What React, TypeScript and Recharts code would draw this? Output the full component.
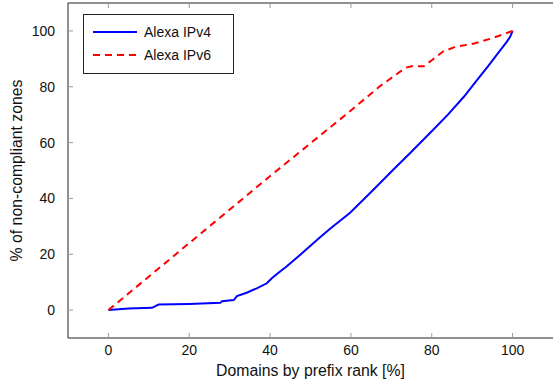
import { LineChart, Line, XAxis, YAxis } from 'recharts';

const ipv4X = [0, 5, 10.8, 12.4, 20, 27.7, 28.1, 31, 31.8, 34.2, 36.7, 39.2, 40.5, 42, 44, 47.4, 52.3, 55, 59.8, 65.5, 70.4, 74.6, 80.3, 84, 88, 91, 94, 96.5, 98.5, 99.4, 100];
const ipv4Y = [0, 0.6, 0.8, 2.0, 2.2, 2.6, 3.2, 3.6, 5.0, 6.2, 7.8, 9.6, 11.5, 13.3, 15.5, 19.7, 26.0, 29.3, 34.9, 43, 50.2, 56.2, 64.5, 70, 76.5, 82, 87.5, 92.2, 96, 97.9, 100];

const ipv6X = [0, 20, 40, 60, 67, 73.5, 75, 78, 80, 82.8, 86, 90, 95, 100];
const ipv6Y = [0, 24, 48, 71.5, 80, 86.8, 87.3, 87.3, 89.5, 92.6, 94.4, 95.3, 97.4, 100];

const xTicks = [0, 20, 40, 60, 80, 100];
const yTicks = [0, 20, 40, 60, 80, 100];

const ipv4 = ipv4X.map((x, i) => ({ x, y: ipv4Y[i] }));
const ipv6 = ipv6X.map((x, i) => ({ x, y: ipv6Y[i] }));

const FONT = '"Liberation Sans", Arial, sans-serif';
const TICK = '#9a9a9a';

function BottomTick(props: any) {
  const { x, y, payload } = props;
  return (
    <g>
      <line x1={x} y1={y} x2={x} y2={y - 5} stroke={TICK} />
      <text x={x} y={y + 17} textAnchor="middle" fontSize={14} fontFamily={FONT} fill="#111">
        {payload.value}
      </text>
    </g>
  );
}

function TopTick(props: any) {
  const { x, y } = props;
  return <line x1={x} y1={y} x2={x} y2={y + 5} stroke={TICK} />;
}

function LeftTick(props: any) {
  const { x, y, payload } = props;
  return (
    <g>
      <line x1={x} y1={y} x2={x + 5} y2={y} stroke={TICK} />
      <text x={x - 13} y={y + 5} textAnchor="end" fontSize={14} fontFamily={FONT} fill="#111">
        {payload.value}
      </text>
    </g>
  );
}

function RightTick(props: any) {
  const { x, y } = props;
  return <line x1={x} y1={y} x2={x - 5} y2={y} stroke={TICK} />;
}

function LegendBox() {
  const rows = [
    { name: 'Alexa IPv4', color: '#0000ff', dash: undefined },
    { name: 'Alexa IPv6', color: '#ff0000', dash: '7 5' },
  ];
  return (
    <svg width={151} height={60} style={{ position: 'absolute', left: 83, top: 14 }}>
      <rect x={0.5} y={0.5} width={150} height={59} fill="#fff" stroke="#222" />
      {rows.map((r, i) => (
        <g key={r.name}>
          <line x1={10} x2={54} y1={18 + i * 23} y2={18 + i * 23} stroke={r.color} strokeWidth={2} strokeDasharray={r.dash} />
          <text x={61} y={23 + i * 23} fontSize={14} fontFamily={FONT} fill="#111">
            {r.name}
          </text>
        </g>
      ))}
    </svg>
  );
}

export default function App() {
  return (
    <div style={{ position: 'absolute', left: 0, top: 0, width: 558, height: 383, background: '#fff' }}>
      <LineChart width={558} height={383} margin={{ top: 2, right: 5, bottom: 5, left: 8 }}>
        <XAxis
          dataKey="x"
          type="number"
          domain={[-10, 110]}
          ticks={xTicks}
          tickSize={0}
          tickMargin={0}
          tickLine={false}
          tick={<BottomTick />}
          height={40}
          axisLine={{ stroke: '#222' }}
          allowDataOverflow
          label={{ value: 'Domains by prefix rank [%]', position: 'insideBottom', offset: 2, fontSize: 15.8, fontFamily: FONT, fill: '#111' }}
        />
        <XAxis
          xAxisId="top"
          dataKey="x"
          orientation="top"
          type="number"
          domain={[-10, 110]}
          ticks={xTicks}
          tickSize={0}
          tickMargin={0}
          tickLine={false}
          tick={<TopTick />}
          height={1}
          axisLine={{ stroke: '#222' }}
          allowDataOverflow
        />
        <YAxis
          dataKey="y"
          type="number"
          domain={[-10, 110]}
          ticks={yTicks}
          tickSize={0}
          tickMargin={0}
          tickLine={false}
          tick={<LeftTick />}
          width={60}
          axisLine={{ stroke: '#222' }}
          allowDataOverflow
          label={{ value: '% of non-compliant zones', angle: -90, position: 'insideLeft', offset: 8, fontSize: 15.8, fontFamily: FONT, fill: '#111', style: { textAnchor: 'middle' } }}
        />
        <YAxis
          yAxisId="right"
          dataKey="y"
          orientation="right"
          type="number"
          domain={[-10, 110]}
          ticks={yTicks}
          tickSize={0}
          tickMargin={0}
          tickLine={false}
          tick={<RightTick />}
          width={0}
          axisLine={{ stroke: '#222' }}
          allowDataOverflow
        />
        <Line data={ipv4} dataKey="y" name="Alexa IPv4" type="linear" stroke="#0000ff" strokeWidth={2} dot={false} isAnimationActive={false} />
        <Line data={ipv6} dataKey="y" name="Alexa IPv6" type="linear" stroke="#ff0000" strokeWidth={2} strokeDasharray="7 5" dot={false} isAnimationActive={false} />
      </LineChart>
      <LegendBox />
    </div>
  );
}
